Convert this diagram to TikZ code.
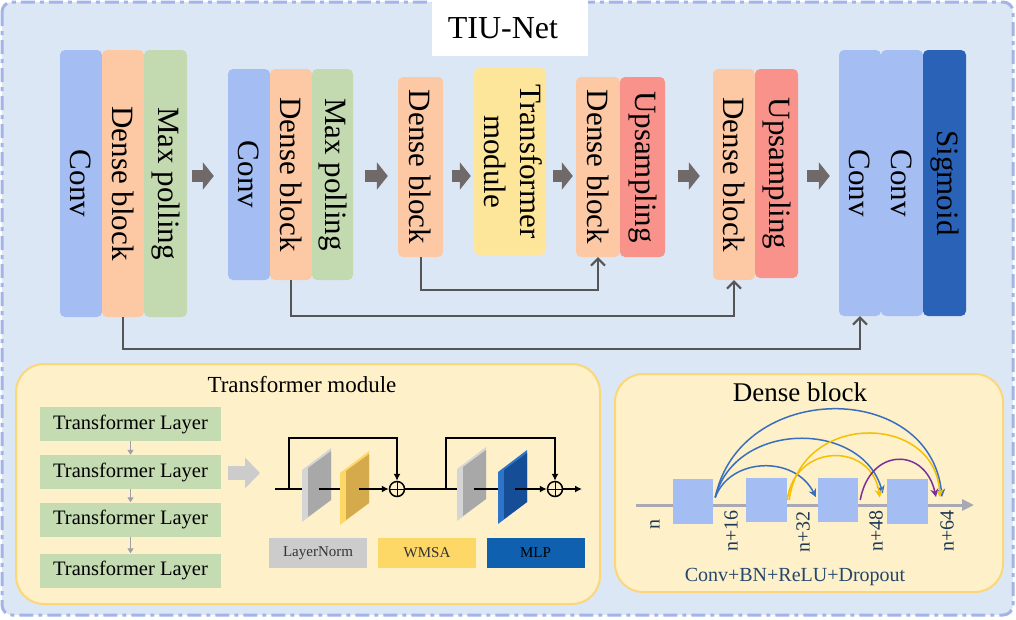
\documentclass[tikz,border=0pt]{standalone}
\usepackage{fontspec}
\setmainfont{Liberation Serif}
\usepackage{graphicx}
\usetikzlibrary{arrows.meta,calc}
\definecolor{bgblue}{HTML}{DCE7F5}
\definecolor{bordblue}{HTML}{A3B4E6}
\definecolor{convc}{HTML}{A4BDF2}
\definecolor{densec}{HTML}{FDC9A5}
\definecolor{poolc}{HTML}{C3D9B0}
\definecolor{transc}{HTML}{FDE59A}
\definecolor{upc}{HTML}{F9928B}
\definecolor{sigc}{HTML}{2A62B8}
\definecolor{arrc}{HTML}{6F6969}
\definecolor{skipc}{HTML}{555555}
\definecolor{panelc}{HTML}{FEF0C9}
\definecolor{panelb}{HTML}{FCD77A}
\definecolor{layerc}{HTML}{C5DBB2}
\definecolor{lnlight}{HTML}{D5D5D5}
\definecolor{lndark}{HTML}{A8A8A8}
\definecolor{wlight}{HTML}{FDD867}
\definecolor{wdark}{HTML}{D5AA4C}
\definecolor{mlight}{HTML}{2E74C8}
\definecolor{mdark}{HTML}{154E96}
\definecolor{mlpc}{HTML}{1060B0}
\definecolor{dblue}{HTML}{3A6FC0}
\definecolor{dyel}{HTML}{F5C000}
\definecolor{dpur}{HTML}{7B2F9A}
\definecolor{axisc}{HTML}{A9A9B3}
\definecolor{labc}{HTML}{24476B}
\definecolor{smallarr}{HTML}{9FA0A8}
\newcommand\slabshape[4]{%
  \begin{scope}[shift={(#1,#2)}]
    \fill[#3] (0,0) -- (29,-22) -- (29,30) -- (0,52) -- cycle;
    \fill[#4] (6,-2) -- (29,-19) -- (29,30) -- (6,47) -- cycle;
  \end{scope}}
\tikzset{
  blk/.style={rounded corners=5pt, inner sep=0pt, text=black,
    font=\fontsize{31}{36}\selectfont},
  bigarr/.style={draw=arrc, line width=12pt, -{Triangle[length=11pt,width=27pt]}},
  skipline/.style={draw=skipc, line width=2pt, -{Straight Barb[length=7pt,width=14pt]}},
  panel/.style={fill=panelc, draw=panelb, line width=2pt, rounded corners=28pt, inner sep=0pt},
  tlayer/.style={fill=layerc, inner sep=0pt, minimum width=181pt, minimum height=34pt,
    font=\fontsize{20.5}{22}\selectfont},
  tarr/.style={draw=smallarr, line width=1.5pt, -{Triangle[length=5pt,width=6pt]}},
  resline/.style={draw=black, line width=1.6pt},
  resarr/.style={draw=black, line width=1.6pt, -{Latex[length=7pt,width=7pt]}},
  legend/.style={inner sep=0pt, minimum width=98pt, minimum height=30pt,
    font=\fontsize{15}{17}\selectfont, text=black!80},
  sqbox/.style={fill=convc, inner sep=0pt},
  arc/.style={line width=1.5pt, -{Stealth[length=8pt,width=8pt]}},
  nlab/.style={rotate=90, inner sep=0pt, text=labc!80!black, font=\fontsize{20}{22}\selectfont},
}
\begin{document}
\begin{tikzpicture}[x=1pt,y=-1pt]
\useasboundingbox (0,0) rectangle (1016,619);
% background
\draw[fill=bgblue, draw=bordblue, line width=3pt, rounded corners=10pt,
  dash pattern=on 14pt off 5pt on 4pt off 5pt] (2,2) rectangle (1013,615);
\node[fill=white, minimum width=156pt, minimum height=56pt, inner sep=0pt,
  font=\fontsize{32}{34}\selectfont] (title) at (510,28) {TIU-Net\hspace*{14pt}};
% encoder / decoder blocks
\node[blk, fill=convc, minimum width=42pt, minimum height=267pt] (cv1) at (81,183.5) {\rotatebox[origin=c]{-90}{Conv}};
\node[blk, fill=densec, minimum width=42pt, minimum height=267pt] (db1) at (123,183.5) {\rotatebox[origin=c]{-90}{Dense block}};
\node[blk, fill=poolc, minimum width=43pt, minimum height=267pt] (mp1) at (165.5,183.5) {\rotatebox[origin=c]{-90}{Max polling}};
\node[blk, fill=convc, minimum width=42pt, minimum height=211pt] (cv2) at (249,174.5) {\rotatebox[origin=c]{-90}{Conv}};
\node[blk, fill=densec, minimum width=42pt, minimum height=211pt] (db2) at (291,174.5) {\rotatebox[origin=c]{-90}{Dense block}};
\node[blk, fill=poolc, minimum width=41pt, minimum height=211pt] (mp2) at (332.5,174.5) {\rotatebox[origin=c]{-90}{Max polling}};
\node[blk, fill=densec, minimum width=45pt, minimum height=180pt] (db3) at (420.5,167) {\rotatebox[origin=c]{-90}{Dense block}};
\node[blk, fill=transc, minimum width=66pt, minimum height=187pt] (tm) at (510,161.5) {\rotatebox[origin=c]{-90}{\begin{tabular}{@{}c@{}}Transformer\\ module\end{tabular}}};
\node[blk, fill=densec, minimum width=44pt, minimum height=180pt] (db4) at (598,167) {\rotatebox[origin=c]{-90}{Dense block}};
\node[blk, fill=upc, minimum width=45pt, minimum height=180pt] (up4) at (642.5,167) {\rotatebox[origin=c]{-90}{Upsampling}};
\node[blk, fill=densec, minimum width=42pt, minimum height=211pt] (db5) at (734,174.5) {\rotatebox[origin=c]{-90}{Dense block}};
\node[blk, fill=upc, minimum width=43pt, minimum height=209pt] (up5) at (776.5,173.5) {\rotatebox[origin=c]{-90}{Upsampling}};
\node[blk, fill=convc, minimum width=42pt, minimum height=266pt] (cv3) at (860,183) {\rotatebox[origin=c]{-90}{Conv}};
\node[blk, fill=convc, minimum width=42pt, minimum height=266pt] (cv4) at (902,183) {\rotatebox[origin=c]{-90}{Conv}};
\node[blk, fill=sigc, minimum width=43pt, minimum height=266pt] (sg) at (944.5,183) {\rotatebox[origin=c]{-90}{Sigmoid}};
% big arrows
\coordinate (ay) at (0,176);
\draw[bigarr] ($(mp1.east|-ay)+(5,0)$) -- ($(cv2.west|-ay)+(-14,0)$);
\draw[bigarr] ($(mp2.east|-ay)+(12,0)$) -- ($(db3.west|-ay)+(-10,0)$);
\draw[bigarr] ($(db3.east|-ay)+(9,0)$) -- ($(tm.west|-ay)+(-3,0)$);
\draw[bigarr] ($(tm.east|-ay)+(7,0)$) -- ($(db4.west|-ay)+(-3,0)$);
\draw[bigarr] ($(up4.east|-ay)+(13,0)$) -- ($(db5.west|-ay)+(-13,0)$);
\draw[bigarr] ($(up5.east|-ay)+(9,0)$) -- ($(cv3.west|-ay)+(-9,0)$);
% skip connections
\draw[skipline] (db3.south) -- ++(0,33) -| (db4.south);
\draw[skipline] (db2.south) -- ++(0,36) -| (db5.south);
\draw[skipline] (db1.south) -- ++(0,32) -| (cv3.south);
% transformer module panel
\node[panel, minimum width=584pt, minimum height=240pt] (tpanel) at (308,484) {};
\node[font=\fontsize{23}{25}\selectfont, inner sep=0pt] (ttitle) at (302,385) {Transformer module};
\node[tlayer] (tl1) at (130.5,424) {Transformer Layer};
\node[tlayer] (tl2) at (130.5,472) {Transformer Layer};
\node[tlayer] (tl3) at (130.5,519.5) {Transformer Layer};
\node[tlayer] (tl4) at (130.5,570.5) {Transformer Layer};
\draw[tarr] (tl1.south) -- (tl2.north);
\draw[tarr] (tl2.south) -- (tl3.north);
\draw[tarr] (tl3.south) -- (tl4.north);
\coordinate (fa1) at (228,473);
\coordinate (fa2) at (260,473);
\draw[draw=black!20, line width=14pt, -{Triangle[length=15pt,width=30pt]}] (fa1) -- (fa2);
% residual diagram
\slabshape{302}{470}{lnlight}{lndark}
\slabshape{340}{473}{wlight}{wdark}
\slabshape{457}{469}{lnlight}{lndark}
\slabshape{498}{472}{mlight}{mdark}
\node[circle, draw=black, line width=1.5pt, minimum size=15pt, inner sep=0pt] (ad1) at (397,489) {};
\node[circle, draw=black, line width=1.5pt, minimum size=15pt, inner sep=0pt] (ad2) at (555,489) {};
\draw[black, line width=0.8pt] (ad1.north) -- (ad1.south) (ad1.west) -- (ad1.east);
\draw[black, line width=0.8pt] (ad2.north) -- (ad2.south) (ad2.west) -- (ad2.east);
\coordinate (r0) at (275,489);
\coordinate (r1) at (289,489);
\coordinate (r2) at (302,489);
\coordinate (r3) at (319,489);
\coordinate (r4) at (340,489);
\coordinate (r5) at (359,489);
\coordinate (r6) at (446,489);
\coordinate (r7) at (457,489);
\coordinate (r8) at (474,489);
\coordinate (r9) at (498,489);
\coordinate (r10) at (515,489);
\coordinate (rend) at (582,489);
\draw[resline] (r0) -- (r2);
\draw[resline] (r3) -- (r4);
\draw[resarr] (r5) -- (ad1.west);
\draw[resline] (ad1.east) -- (r7);
\draw[resline] (r8) -- (r9);
\draw[resarr] (r10) -- (ad2.west);
\draw[resarr] (ad2.east) -- (rend);
\draw[resarr] (r1) -- ++(0,-51) -| (ad1.north);
\draw[resarr] (r6) -- ++(0,-51) -| (ad2.north);
\node[legend, fill=black!20] (lgln) at (318,553) {LayerNorm};
\node[legend, fill=wlight] (lgw) at (427,553) {WMSA};
\node[legend, fill=mlpc, text=black] (lgm) at (535.5,553) {MLP};
% dense block panel
\node[panel, minimum width=388pt, minimum height=218pt] (dpanel) at (809,483) {};
\node[font=\fontsize{27}{29}\selectfont, inner sep=0pt] (dtitle) at (800,392) {Dense block};
\coordinate (axs) at (636,505);
\coordinate (axe) at (974,505);
\draw[draw=axisc, line width=3pt, -{Triangle[length=12pt,width=11pt]}] (axs) -- (axe);
\node[sqbox, minimum width=40pt, minimum height=45pt] (sq1) at (693,501.5) {};
\node[sqbox, minimum width=41pt, minimum height=44pt] (sq2) at (766.5,500) {};
\node[sqbox, minimum width=40pt, minimum height=44pt] (sq3) at (838,500) {};
\node[sqbox, minimum width=41pt, minimum height=45pt] (sq4) at (907.5,501.5) {};
\coordinate (p64) at (942,497);
\draw[arc, dblue] ($(sq1.east)+(2,-4)$) .. controls (730,457) and (795,455) .. ($(sq3.west)+(-2,-3)$);
\draw[arc, dblue] ($(sq1.east)+(2,-4)$) .. controls (735,420) and (862,420) .. ($(sq4.west)+(-4,-8)$);
\draw[arc, dblue] ($(sq1.east)+(2,-4)$) .. controls (740,380) and (930,380) .. (p64);
\draw[arc, dyel] ($(sq2.east)+(0,0)$) .. controls (795,442) and (872,442) .. ($(sq4.west)+(-7,-4)$);
\draw[arc, dyel] ($(sq2.east)+(2,0)$) .. controls (800,412) and (935,412) .. ($(p64)+(-2,0)$);
\draw[arc, dpur] ($(sq3.east)+(2,0)$) .. controls (870,447) and (925,447) .. ($(p64)+(-6,0)$);
\node[nlab] (ln0) at (655,524) {n};
\node[nlab] (ln16) at (731,531) {n+16};
\node[nlab] (ln32) at (803,532) {n+32};
\node[nlab] (ln48) at (876,531) {n+48};
\node[nlab] (ln64) at (947,531) {n+64};
\node[font=\fontsize{20}{22}\selectfont, text=labc, inner sep=0pt] (cbrd) at (795,577) {Conv+BN+ReLU+Dropout};
\end{tikzpicture}
\end{document}
